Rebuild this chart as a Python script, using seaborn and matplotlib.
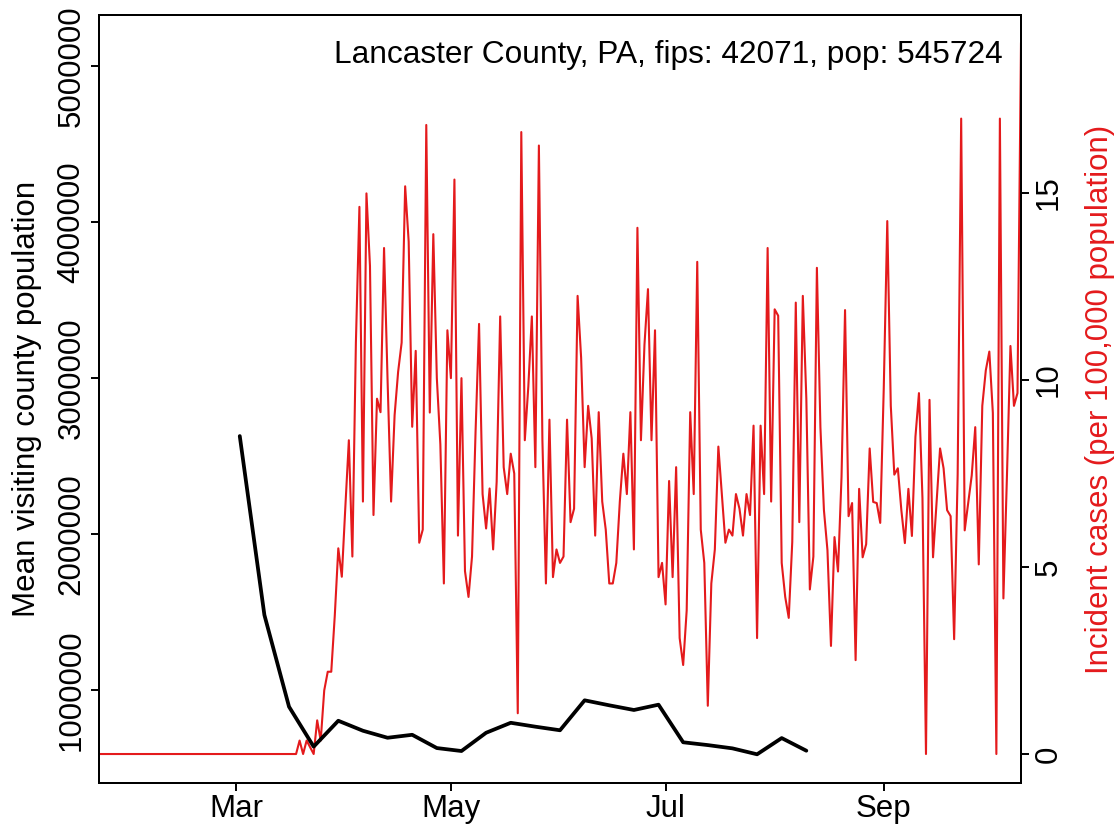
import pandas as pd
import matplotlib
matplotlib.use("Agg")
import matplotlib.pyplot as plt
import seaborn as sns

# Daily incident cases per 100,000 population, one value per day from 2020-01-22
case_start = "2020-01-22"
cases_per_100k = [
    0, 0, 0, 0, 0, 0, 0, 0, 0, 0, 0, 0, 0, 0, 0, 0, 0, 0, 0, 0,
    0, 0, 0, 0, 0, 0, 0, 0, 0, 0, 0, 0, 0, 0, 0, 0, 0, 0, 0, 0,
    0, 0, 0, 0, 0, 0, 0, 0, 0, 0, 0, 0, 0, 0, 0, 0,
    0, 0.36, 0, 0.36, 0.18, 0, 0.9, 0.36, 1.7, 2.2,
    2.2, 3.7, 5.5, 4.74, 6.6, 8.39, 5.28, 11.0, 14.63, 6.75,
    14.99, 13.05, 6.39, 9.5, 9.14, 13.53, 10.0, 6.75, 9.06, 10.22,
    11.0, 15.18, 13.7, 8.75, 10.78, 5.65, 6.0, 16.82, 9.13, 13.9,
    10.05, 8.28, 4.56, 11.33, 10.05, 15.36, 5.84, 10.05, 4.89, 4.2,
    5.28, 8.6, 11.5, 6.95, 6.03, 7.1, 5.47, 7.28, 11.7, 7.67,
    6.95, 8.03, 7.5, 1.09, 16.63, 8.39, 9.83, 11.7, 7.67, 16.27,
    8.39, 4.56, 8.94, 4.73, 5.47, 5.11, 5.28, 8.94, 6.2, 6.56,
    12.25, 10.6, 7.67, 9.31, 8.44, 5.84, 9.14, 6.75, 6.0, 4.56,
    4.56, 5.11, 6.75, 8.03, 6.95, 9.14, 5.47, 14.07, 8.39, 10.94,
    12.43, 8.39, 11.33, 4.73, 5.11, 4.0, 7.3, 4.73, 7.67, 3.1,
    2.38, 3.84, 9.14, 6.95, 13.16, 6.0, 5.11, 1.29, 4.56, 5.47,
    8.22, 6.95, 5.65, 6.0, 5.84, 6.95, 6.56, 5.84, 6.95, 6.39,
    8.78, 3.1, 8.78, 6.95, 13.53, 6.75, 11.89, 11.72, 5.11, 4.2,
    3.64, 5.67, 12.07, 6.2, 12.25, 9.5, 4.4, 5.28, 13.0, 8.74,
    6.52, 5.45, 2.89, 5.8, 4.88, 7.41, 11.87, 6.36, 6.71, 2.51,
    7.09, 5.26, 5.61, 8.17, 6.74, 6.71, 6.18, 9.78, 14.25, 9.31,
    7.47, 7.64, 6.52, 5.64, 7.09, 5.83, 8.48, 9.65, 6.84, 0,
    9.47, 5.26, 6.71, 8.17, 7.64, 6.52, 6.36, 3.07, 7.47, 16.99,
    5.98, 6.71, 7.45, 8.74, 5.07, 9.31, 10.26, 10.76, 9.12, 0,
    16.99, 4.16, 7.41, 10.91, 9.31, 9.65, 19.02,
]

# Weekly mean visiting county population, one value per week from 2020-03-02
visit_start = "2020-03-02"
mean_visiting_pop = [
    2628000, 1481000, 893000, 637000, 803000, 739000, 694000, 713000,
    628000, 609000, 726000, 790000, 765000, 742000, 934000, 902000,
    872000, 906000, 665000, 647000, 626000, 588000, 692000, 611000,
]

month_ticks = ["2020-03-01", "2020-05-01", "2020-07-01", "2020-09-01"]
month_labels = ["Mar", "May", "Jul", "Sep"]
left_ticks = [1000000, 2000000, 3000000, 4000000, 5000000]
right_ticks = [0, 5, 10, 15]
title_text = "Lancaster County, PA, fips: 42071, pop: 545724"

case_dates = pd.date_range(case_start, periods=len(cases_per_100k), freq="D")
visit_dates = pd.date_range(visit_start, periods=len(mean_visiting_pop), freq="7D")

RED = "#E41A1C"
FS = 22.5

sns.set_style("ticks")
plt.rcParams["font.family"] = ["Liberation Sans", "DejaVu Sans"]
plt.rcParams["text.color"] = "black"

W, H = 1119, 826
fig = plt.figure(figsize=(W / 100, H / 100), dpi=100)
ax = fig.add_axes([99 / W, 1 - 783 / H, 922 / W, 768 / H])
ax2 = ax.twinx()

# red daily cases on the right axis
sns.lineplot(x=case_dates, y=cases_per_100k, ax=ax2, color=RED, lw=1.5)
# black weekly visitors on the left axis, drawn on top
sns.lineplot(x=visit_dates, y=mean_visiting_pop, ax=ax, color="black", lw=2.7)
ax.set_zorder(ax2.get_zorder() + 1)
ax.patch.set_visible(False)

ax.set_xlim(case_dates[0], case_dates[-1])
ax.set_ylim(404000, 5327000)
ax2.set_ylim(-0.775, 19.76)

ax.set_xticks(pd.to_datetime(month_ticks))
ax.set_xticklabels(month_labels)
ax.set_yticks(left_ticks)
ax.set_yticklabels([str(v) for v in left_ticks], rotation=90, va="center")
ax2.set_yticks(right_ticks)
ax2.set_yticklabels([str(v) for v in right_ticks], rotation=90, va="center")

for a in (ax, ax2):
    a.set_xlabel("")
    a.set_ylabel("")
    a.tick_params(direction="out", length=6, width=1.4, labelsize=FS,
                  colors="black", pad=3)
    for s in a.spines.values():
        s.set_linewidth(1.4)
        s.set_color("black")
ax.tick_params(axis="x", pad=2)

ax.text(0.98, 0.948, title_text, transform=ax.transAxes, ha="right",
        va="center", fontsize=22.8, color="black")

fig.text(27 / W, 1 - 399 / H, "Mean visiting county population",
         rotation=90, ha="center", va="center", fontsize=FS, color="black")
fig.text(1100 / W, 1 - 399 / H, "Incident cases (per 100,000 population)",
         rotation=90, ha="center", va="center", fontsize=FS, color=RED)

fig.savefig("out.png", dpi=100)
